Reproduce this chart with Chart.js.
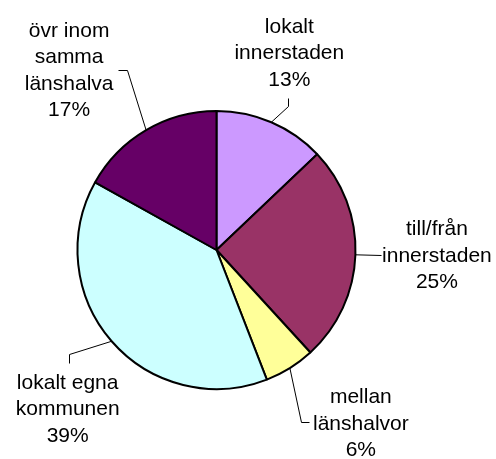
<!DOCTYPE html>
<html>
<head>
<meta charset="utf-8">
<script src="https://cdn.jsdelivr.net/npm/chart.js@4/dist/chart.umd.min.js"></script>
<style>
html,body{margin:0;padding:0;background:#fff;}
canvas{display:block;}
</style>
</head>
<body>
<canvas id="c" width="496" height="459"></canvas>
<script>
// ---- data ----
const categories = ['lokalt innerstaden', 'till/från innerstaden', 'mellan länshalvor', 'lokalt egna kommunen', 'övr inom samma länshalva'];
const labelLines = [['lokalt', 'innerstaden'], ['till/från', 'innerstaden'], ['mellan', 'länshalvor'], ['lokalt egna', 'kommunen'], ['övr inom', 'samma', 'länshalva']];
const shares = [12.9, 25.3, 5.9, 39.0, 16.9];
const sliceColors = ['#CC99FF', '#993366', '#FFFF99', '#CCFFFF', '#660066'];

// ---- label layout (offsets from each slice's outer mid-point) ----
const labelLayout = [
  {tx: 18, ty: -89.5, path: [[17, -16], [17, -24.5]]},
  {tx: 81.5, ty: -19.4, path: [[25.5, 0]]},
  {tx: 71, ty: 35.1, path: [[11.3, 54.1], [19.3, 54.1]]},
  {tx: -44, ty: 47.7, path: [[-42.7, 13.2], [-42.7, 22]]},
  {tx: -77, ty: -93.6, path: [[-18.9, -60.3], [-27.9, -60.3]]}
];
const FONT = '21px "Liberation Sans", Arial, sans-serif';
const LINE_H = 26.5;

const labelPlugin = {
  id: 'pieLabels',
  afterDatasetsDraw(chart) {
    const ctx = chart.ctx;
    const meta = chart.getDatasetMeta(0);
    const total = shares.reduce((a, b) => a + b, 0);
    ctx.save();
    meta.data.forEach((arc, i) => {
      const p = arc.getProps(['x', 'y', 'startAngle', 'endAngle', 'outerRadius'], true);
      const mid = (p.startAngle + p.endAngle) / 2;
      const ax = p.x + Math.cos(mid) * p.outerRadius;
      const ay = p.y + Math.sin(mid) * p.outerRadius;
      const L = labelLayout[i];
      // leader line
      ctx.strokeStyle = '#000';
      ctx.lineWidth = 1;
      ctx.beginPath();
      ctx.moveTo(ax, ay);
      L.path.forEach(([dx, dy]) => ctx.lineTo(Math.round(ax + dx) + 0.5, Math.round(ay + dy) + 0.5));
      ctx.stroke();
      // text
      const lines = labelLines[i].concat([Math.round(shares[i] / total * 100) + '%']);
      ctx.fillStyle = '#000';
      ctx.font = FONT;
      ctx.textAlign = 'center';
      ctx.textBaseline = 'alphabetic';
      lines.forEach((t, k) => ctx.fillText(t, ax + L.tx, ay + L.ty + k * LINE_H));
    });
    ctx.restore();
  }
};

new Chart(document.getElementById('c'), {
  type: 'pie',
  data: {
    labels: categories,
    datasets: [{
      data: shares,
      backgroundColor: sliceColors,
      borderColor: '#000',
      borderWidth: 2,
      radius: 139
    }]
  },
  options: {
    responsive: false,
    animation: false,
    layout: {padding: {left: 0, right: 63, top: 41, bottom: 0}},
    plugins: {legend: {display: false}, tooltip: {enabled: false}}
  },
  plugins: [labelPlugin]
});
</script>
</body>
</html>
